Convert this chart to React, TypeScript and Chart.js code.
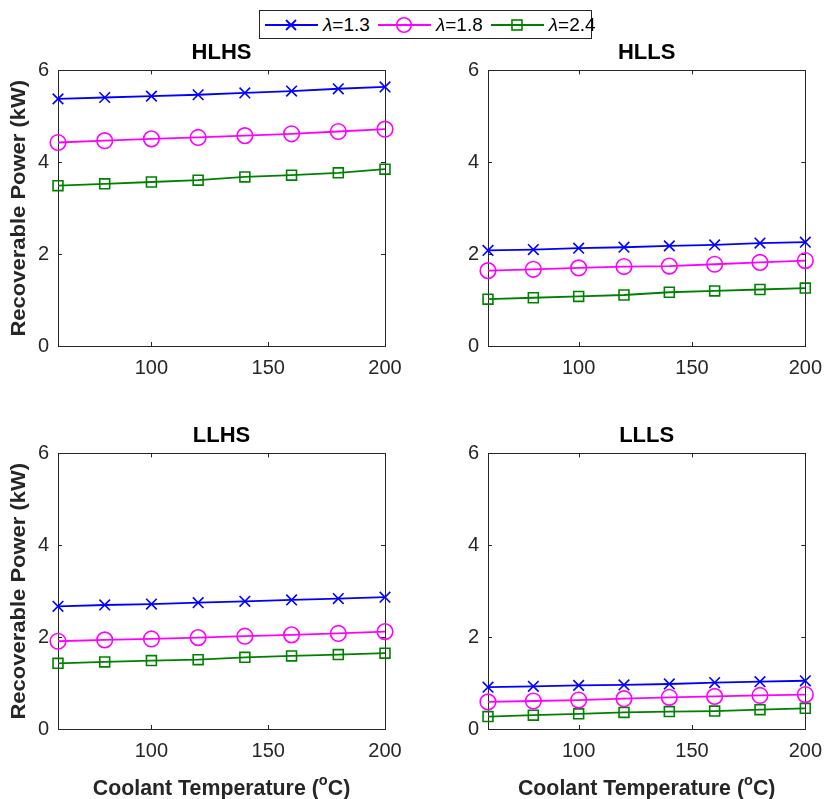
import React, { useEffect, useRef } from "react";
import { Chart, registerables } from "chart.js";

Chart.register(...registerables);

const temps = [60, 80, 100, 120, 140, 160, 180, 200];
const xTicks = [100, 150, 200];
const yTicks = [0, 2, 4, 6];
const lambdaLabels = ["\u03bb=1.3", "\u03bb=1.8", "\u03bb=2.4"];

const hlhs13 = [5.38, 5.41, 5.44, 5.47, 5.51, 5.55, 5.6, 5.64];
const hlhs18 = [4.43, 4.47, 4.51, 4.54, 4.58, 4.62, 4.67, 4.72];
const hlhs24 = [3.49, 3.53, 3.57, 3.61, 3.68, 3.72, 3.77, 3.85];

const hlls13 = [2.08, 2.1, 2.13, 2.15, 2.18, 2.2, 2.24, 2.26];
const hlls18 = [1.64, 1.67, 1.7, 1.73, 1.74, 1.78, 1.82, 1.86];
const hlls24 = [1.02, 1.05, 1.08, 1.11, 1.17, 1.2, 1.23, 1.26];

const llhs13 = [2.67, 2.7, 2.72, 2.75, 2.78, 2.81, 2.84, 2.87];
const llhs18 = [1.91, 1.94, 1.96, 1.99, 2.02, 2.05, 2.08, 2.12];
const llhs24 = [1.43, 1.46, 1.49, 1.51, 1.56, 1.59, 1.62, 1.65];

const llls13 = [0.91, 0.93, 0.95, 0.96, 0.98, 1.01, 1.03, 1.05];
const llls18 = [0.59, 0.61, 0.63, 0.66, 0.69, 0.71, 0.73, 0.75];
const llls24 = [0.27, 0.3, 0.33, 0.36, 0.38, 0.39, 0.42, 0.45];

const FONT = "'Liberation Sans', Arial, Helvetica, sans-serif";
const AXIS = "#262626";
const colors = ["#0000ff", "#ff00ff", "#008000"];
const styles = ["crossRot", "circle", "rect"];
const radii = [7.5, 7.8, 7];

Chart.defaults.font.family = FONT;

const framePlugin = {
  id: "frame",
  beforeDatasetsDraw(chart: any) {
    const { ctx, chartArea: a, scales } = chart;
    ctx.save();
    ctx.strokeStyle = AXIS;
    ctx.lineWidth = 1;
    ctx.strokeRect(Math.round(a.left) + 0.5, Math.round(a.top) + 0.5, Math.round(a.right - a.left), Math.round(a.bottom - a.top));
    const tl = 4;
    ctx.beginPath();
    xTicks.forEach((v) => {
      const px = Math.round(scales.x.getPixelForValue(v)) + 0.5;
      ctx.moveTo(px, a.bottom);
      ctx.lineTo(px, a.bottom - tl);
      ctx.moveTo(px, a.top);
      ctx.lineTo(px, a.top + tl);
    });
    yTicks.forEach((v) => {
      const py = Math.round(scales.y.getPixelForValue(v)) + 0.5;
      ctx.moveTo(a.left, py);
      ctx.lineTo(a.left + tl, py);
      ctx.moveTo(a.right, py);
      ctx.lineTo(a.right - tl, py);
    });
    ctx.stroke();
    ctx.restore();
  },
};

const axisTitlePlugin = {
  id: "axisTitles",
  afterDraw(chart: any) {
    const opts = chart.options.plugins.axisTitles;
    if (!opts) return;
    const { ctx, chartArea: a } = chart;
    if (opts.yShow) {
      ctx.save();
      ctx.fillStyle = AXIS;
      ctx.translate(19, (a.top + a.bottom) / 2);
      ctx.rotate(-Math.PI / 2);
      ctx.scale(1, 0.92);
      ctx.font = "bold 22px " + FONT;
      ctx.textAlign = "center";
      ctx.textBaseline = "middle";
      ctx.fillText("Recoverable Power (kW)", 0, 0);
      ctx.restore();
    }
    if (opts.xShow) {
      const big = "bold 22px " + FONT;
      const small = "bold 15px " + FONT;
      const p1 = "Coolant Temperature (";
      const p2 = "o";
      const p3 = "C)";
      ctx.save();
      ctx.fillStyle = AXIS;
      ctx.textBaseline = "alphabetic";
      ctx.textAlign = "left";
      ctx.font = big;
      const w1 = ctx.measureText(p1).width;
      const w3 = ctx.measureText(p3).width;
      ctx.font = small;
      const w2 = ctx.measureText(p2).width;
      const sx = 0.97;
      const total = (w1 + w2 + w3) * sx;
      const cx = (a.left + a.right) / 2 - total / 2;
      const y = opts.xY;
      ctx.translate(cx, y);
      ctx.scale(sx, 1);
      let x = 0;
      ctx.font = big;
      ctx.fillText(p1, x, 0);
      x += w1;
      ctx.font = small;
      ctx.fillText(p2, x, -10);
      x += w2;
      ctx.font = big;
      ctx.fillText(p3, x, 0);
      ctx.restore();
    }
  },
};

type PanelProps = {
  title: string;
  series: number[][];
  left: number;
  top: number;
  width: number;
  height: number;
  yTitle: boolean;
  xTitle: boolean;
  xAxisHeight: number;
  padRight: number;
};

function Panel(p: PanelProps) {
  const ref = useRef<HTMLCanvasElement>(null);
  useEffect(() => {
    const canvas = ref.current!;
    const chart = new Chart(canvas, {
      type: "line",
      data: {
        datasets: p.series.map((vals, i) => ({
          label: lambdaLabels[i],
          data: temps.map((t, j) => ({ x: t, y: vals[j] })),
          borderColor: colors[i],
          backgroundColor: "rgba(0,0,0,0)",
          borderWidth: 1.8,
          pointStyle: styles[i] as any,
          pointRadius: radii[i],
          pointBorderWidth: 1.6,
          pointBorderColor: colors[i],
          pointBackgroundColor: "rgba(0,0,0,0)",
          tension: 0,
          clip: false as any,
        })),
      },
      options: {
        responsive: false,
        animation: false,
        events: [],
        layout: { padding: { left: 0, right: p.padRight, top: 0, bottom: 0 } },
        plugins: {
          legend: { display: false },
          tooltip: { enabled: false },
          title: {
            display: true,
            fullSize: false,
            text: p.title,
            color: "#000000",
            font: { size: 22, weight: "bold", family: FONT },
            padding: { top: 4, bottom: 4 },
          },
          axisTitles: { yShow: p.yTitle, xShow: p.xTitle, xY: 376 },
        } as any,
        scales: {
          x: {
            type: "linear",
            min: 60,
            max: 200,
            grid: { display: false, drawTicks: false },
            border: { display: false },
            afterBuildTicks: (s: any) => {
              s.ticks = xTicks.map((v) => ({ value: v }));
            },
            afterFit: (s: any) => {
              s.height = p.xAxisHeight;
            },
            ticks: {
              color: AXIS,
              font: { size: 20, family: FONT },
              padding: 10,
              maxRotation: 0,
              autoSkip: false,
            },
          },
          y: {
            type: "linear",
            min: 0,
            max: 6,
            grid: { display: false, drawTicks: false },
            border: { display: false },
            afterBuildTicks: (s: any) => {
              s.ticks = yTicks.map((v) => ({ value: v }));
            },
            afterFit: (s: any) => {
              s.width = 58;
            },
            ticks: {
              color: AXIS,
              font: { size: 20, family: FONT },
              padding: 9,
            },
          },
        },
      },
      plugins: [framePlugin, axisTitlePlugin],
    });
    return () => chart.destroy();
  }, []);
  return (
    <canvas
      ref={ref}
      width={p.width}
      height={p.height}
      style={{ position: "absolute", left: p.left, top: p.top, width: p.width, height: p.height, display: "block" }}
    />
  );
}

function LegendMarker({ i }: { i: number }) {
  const c = colors[i];
  return (
    <svg width={53} height={20} style={{ display: "block" }}>
      <line x1={0} y1={10} x2={53} y2={10} stroke={c} strokeWidth={1.8} />
      {i === 0 && (
        <g stroke={c} strokeWidth={1.8}>
          <line x1={21} y1={5} x2={31} y2={15} />
          <line x1={21} y1={15} x2={31} y2={5} />
        </g>
      )}
      {i === 1 && <circle cx={26} cy={10} r={7.3} fill="none" stroke={c} strokeWidth={1.6} />}
      {i === 2 && <rect x={21} y={5} width={10} height={10} fill="none" stroke={c} strokeWidth={1.6} />}
    </svg>
  );
}

function Legend() {
  return (
    <div
      style={{
        position: "absolute",
        left: 259,
        top: 10,
        height: 29,
        width: 333,
        boxSizing: "border-box",
        border: "1px solid #262626",
        background: "#fff",
        display: "flex",
        alignItems: "center",
        paddingLeft: 5,
        fontFamily: FONT,
        fontSize: 19,
        color: "#000",
      }}
    >
      {lambdaLabels.map((lab, i) => (
        <div key={i} style={{ display: "flex", alignItems: "center", marginRight: i < 2 ? 8 : 0 }}>
          <LegendMarker i={i} />
          <span style={{ marginLeft: 5, whiteSpace: "nowrap" }}>
            <i>{lab.charAt(0)}</i>
            {lab.slice(1)}
          </span>
        </div>
      ))}
    </div>
  );
}

export default function App() {
  return (
    <div style={{ position: "absolute", left: 0, top: 0, width: 832, height: 799, background: "#fff", overflow: "hidden" }}>
      <Panel title="HLHS" series={[hlhs13, hlhs18, hlhs24]} left={0} top={36} width={420} height={350} yTitle={true} xTitle={false} xAxisHeight={40} padRight={35} />
      <Panel title="HLLS" series={[hlls13, hlls18, hlls24]} left={430} top={36} width={402} height={350} yTitle={false} xTitle={false} xAxisHeight={40} padRight={18} />
      <Panel title="LLHS" series={[llhs13, llhs18, llhs24]} left={0} top={419} width={420} height={380} yTitle={true} xTitle={true} xAxisHeight={70} padRight={35} />
      <Panel title="LLLS" series={[llls13, llls18, llls24]} left={430} top={419} width={402} height={380} yTitle={false} xTitle={true} xAxisHeight={70} padRight={18} />
      <Legend />
    </div>
  );
}
